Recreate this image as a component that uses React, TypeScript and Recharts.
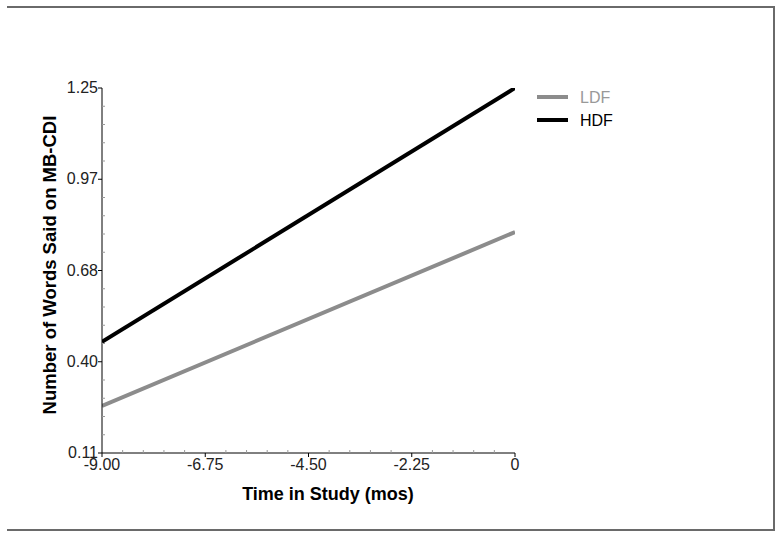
import React from "react";
import { LineChart, Line, XAxis, YAxis, Legend } from "recharts";

// ---- data ----
const months = [-9, 0];
const ldfValues = [0.257, 0.8];
const hdfValues = [0.457, 1.25];

const xMajorTicks = [-9, -6.75, -4.5, -2.25, 0];
const xTickLabels = ["-9.00", "-6.75", "-4.50", "-2.25", "0"];
const yMajorTicks = [0.11, 0.395, 0.68, 0.965, 1.25];
const yTickLabels = ["0.11", "0.40", "0.68", "0.97", "1.25"];

const seriesNames = ["LDF", "HDF"];
const seriesColors = ["#8c8c8c", "#000000"];
const legendTextColors = ["#999999", "#000000"];

const xTitle = "Time in Study (mos)";
const yTitle = "Number of Words Said on MB-CDI";

// minor ticks: 4 between each pair of majors
function withMinors(majors: number[]): number[] {
  const out: number[] = [];
  for (let i = 0; i < majors.length; i++) {
    out.push(majors[i]);
    if (i < majors.length - 1) {
      const step = (majors[i + 1] - majors[i]) / 5;
      for (let k = 1; k < 5; k++) out.push(majors[i] + step * k);
    }
  }
  return out;
}
const xAllTicks = withMinors(xMajorTicks);
const yAllTicks = withMinors(yMajorTicks);

const ldfData = months.map((m, i) => ({ x: m, y: ldfValues[i] }));
const hdfData = months.map((m, i) => ({ x: m, y: hdfValues[i] }));

const FONT = "'Liberation Sans', Arial, sans-serif";

function majorIndex(list: number[], v: number) {
  return list.findIndex((t) => Math.abs(t - v) < 1e-6);
}

const XTick = (props: any) => {
  const { x, y, payload } = props;
  const idx = majorIndex(xMajorTicks, payload.value);
  if (idx < 0) {
    return <line x1={x} x2={x} y1={y} y2={y - 3} stroke="#999" strokeWidth={1} />;
  }
  return (
    <g>
      <line x1={x} x2={x} y1={y} y2={y + 4} stroke="#000" strokeWidth={1} />
      <text x={x} y={y + 17} textAnchor="middle" fontFamily={FONT} fontSize={16} fill="#222">
        {xTickLabels[idx]}
      </text>
    </g>
  );
};

const YTick = (props: any) => {
  const { x, y, payload } = props;
  const idx = majorIndex(yMajorTicks, payload.value);
  if (idx < 0) {
    return <line x1={x} x2={x + 3} y1={y} y2={y} stroke="#999" strokeWidth={1} />;
  }
  return (
    <g>
      <line x1={x} x2={x - 4} y1={y} y2={y} stroke="#000" strokeWidth={1} />
      <text x={x - 4} y={y + 5} textAnchor="end" fontFamily={FONT} fontSize={16} fill="#222">
        {yTickLabels[idx]}
      </text>
    </g>
  );
};

const renderLegend = () => (
  <svg width={120} height={50}>
    {seriesNames.map((name, i) => (
      <g key={name}>
        <line x1={0} x2={31} y1={11 + i * 23} y2={11 + i * 23} stroke={seriesColors[i]} strokeWidth={4} />
        <text x={43} y={17 + i * 23} fontFamily={FONT} fontSize={16} fill={legendTextColors[i]}>
          {name}
        </text>
      </g>
    ))}
  </svg>
);

export default function App() {
  return (
    <div style={{ position: "absolute", left: 0, top: 0, width: 777, height: 538, background: "#fff" }}>
      <div
        style={{
          position: "absolute",
          left: 7,
          top: 6,
          width: 766,
          height: 521,
          borderTop: "2px solid #6a6a6a",
          borderRight: "2px solid #6a6a6a",
          borderBottom: "2px solid #6a6a6a",
        }}
      />
      <div style={{ position: "absolute", left: 0, top: 0 }}>
        <LineChart width={777} height={538} margin={{ top: 88, left: 42, right: 262, bottom: 35 }}>
          <XAxis
            dataKey="x"
            type="number"
            domain={[-9, 0]}
            ticks={xAllTicks}
            interval={0}
            height={50}
            tickSize={0}
            tickMargin={0}
            tickLine={false}
            axisLine={{ stroke: "#000", strokeWidth: 1 }}
            tick={<XTick />}
            allowDataOverflow
            label={{
              content: () => (
                <text x={328} y={500} textAnchor="middle" fontFamily={FONT} fontSize={18} fontWeight="bold" fill="#000">
                  {xTitle}
                </text>
              ),
            }}
          />
          <YAxis
            type="number"
            domain={[0.11, 1.25]}
            ticks={yAllTicks}
            interval={0}
            width={60}
            tickSize={0}
            tickMargin={0}
            tickLine={false}
            axisLine={{ stroke: "#000", strokeWidth: 1 }}
            tick={<YTick />}
            allowDataOverflow
            label={{
              content: () => (
                <text
                  x={56}
                  y={265}
                  textAnchor="middle"
                  transform="rotate(-90 56 265)"
                  fontFamily={FONT}
                  fontSize={18.5}
                  fontWeight="bold"
                  fill="#000"
                >
                  {yTitle}
                </text>
              ),
            }}
          />
          <Legend
            layout="vertical"
            align="center"
            verticalAlign="middle"
            wrapperStyle={{ left: 537, top: 86, width: 120 }}
            content={renderLegend}
          />
          <Line
            data={ldfData}
            dataKey="y"
            name={seriesNames[0]}
            stroke={seriesColors[0]}
            strokeWidth={4}
            dot={false}
            activeDot={false}
            isAnimationActive={false}
          />
          <Line
            data={hdfData}
            dataKey="y"
            name={seriesNames[1]}
            stroke={seriesColors[1]}
            strokeWidth={4}
            dot={false}
            activeDot={false}
            isAnimationActive={false}
          />
        </LineChart>
      </div>
    </div>
  );
}
